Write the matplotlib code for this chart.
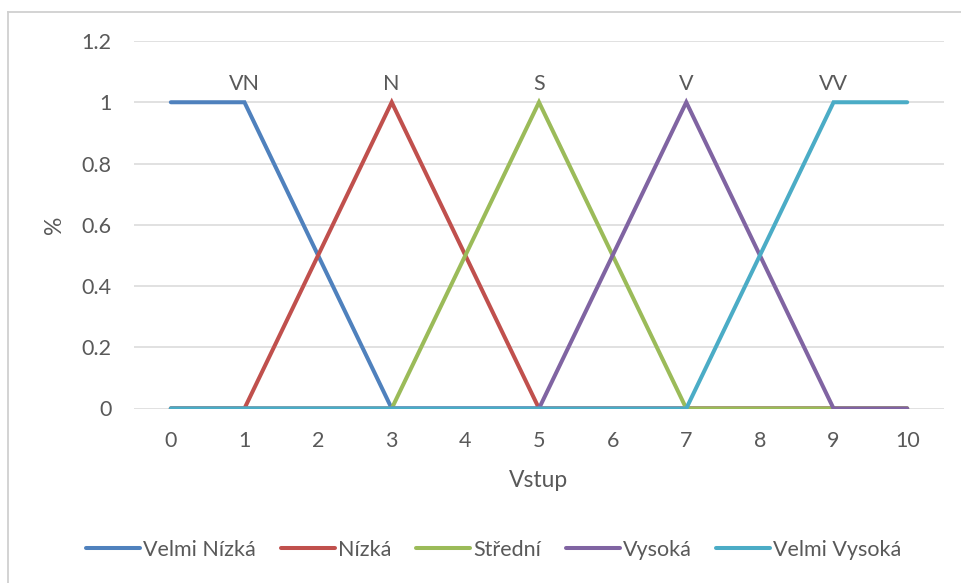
import matplotlib
matplotlib.use("Agg")
import matplotlib.pyplot as plt
from matplotlib.lines import Line2D

# Membership degrees of the fuzzy sets over the input range
x_vals = [0, 1, 2, 3, 4, 5, 6, 7, 8, 9, 10]
velmi_nizka = [1, 1, 0.5, 0, 0, 0, 0, 0, 0, 0, 0]
nizka = [0, 0, 0.5, 1, 0.5, 0, 0, 0, 0, 0, 0]
stredni = [0, 0, 0, 0, 0.5, 1, 0.5, 0, 0, 0, 0]
vysoka = [0, 0, 0, 0, 0, 0, 0.5, 1, 0.5, 0, 0]
velmi_vysoka = [0, 0, 0, 0, 0, 0, 0, 0, 0.5, 1, 1]

series_names = ["Velmi Nízká", "Nízká", "Střední", "Vysoká", "Velmi Vysoká"]
short_labels = ["VN", "N", "S", "V", "VV"]
label_idx = [1, 3, 5, 7, 9]
y_ticks = [0, 0.2, 0.4, 0.6, 0.8, 1, 1.2]
y_tick_labels = ["0", "0.2", "0.4", "0.6", "0.8", "1", "1.2"]

colors = ["#4F81BD", "#C0504D", "#9BBB59", "#8064A2", "#4BACC6"]
text_color = "#595959"
grid_color = "#D9D9D9"

plt.rcParams["font.family"] = ["Lato", "DejaVu Sans"]

W, H = 961, 583
fig = plt.figure(figsize=(W / 100, H / 100), dpi=100)
fig.patch.set_facecolor("white")

ax = fig.add_axes([134 / W, (H - 408.5) / H, (944 - 134) / W, (408.5 - 41) / H])

all_series = [velmi_nizka, nizka, stredni, vysoka, velmi_vysoka]
for vals, name, c in zip(all_series, series_names, colors):
    ax.plot(x_vals, vals, color=c, lw=2.9, label=name,
            solid_capstyle="round", solid_joinstyle="miter", zorder=3)

for vals, lab, i in zip(all_series, short_labels, label_idx):
    ax.annotate(lab, (x_vals[i], vals[i]), xytext=(0, 9), textcoords="offset points",
                ha="center", va="baseline", fontsize=15.5, color=text_color)

ax.set_xlim(-0.5, 10.5)
ax.set_ylim(0, 1.2)
ax.set_xticks(x_vals)
ax.set_xticklabels([str(v) for v in x_vals])
ax.set_yticks(y_ticks)
ax.set_yticklabels(y_tick_labels)
ax.tick_params(axis="both", length=0, labelsize=15.5, labelcolor=text_color)
ax.tick_params(axis="x", pad=16)
ax.tick_params(axis="y", pad=16)
ax.grid(axis="y", color=grid_color, lw=1.1, zorder=0)
for s in ax.spines.values():
    s.set_visible(False)
ax.set_axisbelow(True)

ax.set_xlabel("Vstup", fontsize=16.5, color=text_color, labelpad=14)
ax.set_ylabel("%", fontsize=16.5, color=text_color, labelpad=12)

fig.legend(loc="center", bbox_to_anchor=(494 / W, (H - 550) / H), ncol=5,
           frameon=False, fontsize=15.5, handlelength=2.5, handletextpad=0.15,
           columnspacing=1.15, labelcolor=text_color)

# Chart-area border (top and left edges)
fig.add_artist(Line2D([8 / W, 8 / W], [0, (H - 12) / H], color="#D0D0D0", lw=1.3,
                      transform=fig.transFigure))
fig.add_artist(Line2D([8 / W, 1], [(H - 12) / H, (H - 12) / H], color="#D0D0D0", lw=1.3,
                      transform=fig.transFigure))

fig.savefig("out.png", dpi=100)
